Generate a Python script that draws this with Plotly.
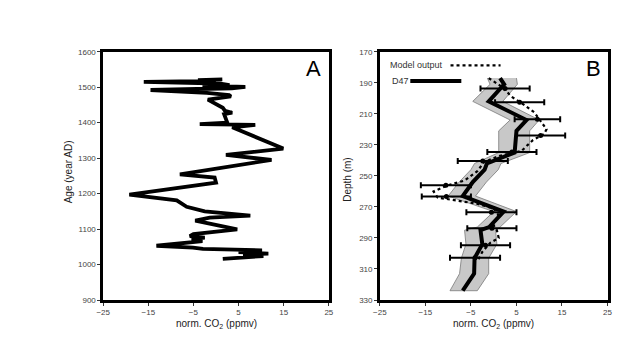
import plotly.graph_objects as go

# ---------------- Panel A data ----------------
age_A = [1016, 1019, 1024, 1028, 1031, 1035, 1040, 1044, 1048, 1053, 1060, 1066, 1071, 1076,
         1080, 1086, 1099, 1118, 1124, 1132, 1138, 1150, 1158, 1163, 1181, 1197, 1231, 1245,
         1254, 1295, 1309, 1327, 1387, 1394, 1396, 1400, 1424, 1428, 1433, 1442, 1465, 1474,
         1478, 1484, 1492, 1497, 1501, 1504, 1506, 1510, 1515, 1518, 1520, 1522]
co2_A = [1.5, 5.8, 10.5, 6.0, 11.6, 5.0, 10.2, -2.9, -5.1, -13.2, -7.0, -3.0, -5.4, -2.5,
         -5.8, -5.0, 4.7, -2.0, -4.6, -1.4, 7.6, -2.5, -5.4, -6.5, -8.7, -19.2, 0.0, -0.3,
         -8.0, 12.3, 2.2, 14.9, 3.6, 8.7, -3.6, 2.5, 1.8, 3.6, 2.0, 1.5, -1.8, 3.3,
         2.9, -2.0, -14.5, 3.5, 6.5, -3.0, 3.0, 1.0, -16.0, 0.0, -4.0, 1.4]

# ---------------- Panel B data ----------------
depth_D47 = [187, 191, 202, 214, 221, 235, 242, 246, 254, 263, 273, 283, 285, 294, 303, 313, 324]
co2_D47 = [1.4, 2.3, -1.1, 7.2, 5.0, 4.6, -1.5, -2.0, -4.6, -6.8, 2.2, -1.0, -2.9, -2.5, -4.2, -4.3, -6.8]
band_lo = [-1.4, -0.8, -4.6, 3.6, 1.1, 1.1, -4.2, -5.0, -7.6, -10.0, 0.0, -3.6, -6.4, -6.1, -7.1, -7.5, -9.6]
band_hi = [5.0, 5.2, 2.0, 10.0, 7.9, 7.9, 1.6, 1.0, -1.6, -4.0, 5.0, 1.4, 0.4, 0.7, -1.1, -1.1, -3.6]

depth_model = [187, 193, 199, 203, 209, 215, 220, 223, 227, 230, 234, 237, 241, 247, 253, 256,
               260, 264, 266, 268, 271, 275, 282, 285, 290, 293, 299, 305]
co2_model = [-1.1, 2.0, 3.9, 6.1, 8.9, 10.4, 11.6, 11.1, 8.6, 7.5, 6.1, 1.4, -2.1, -3.6, -6.4, -10.0,
             -13.2, -12.3, -8.0, -3.6, 0.0, 1.0, 0.0, 0.7, 1.1, -0.7, -2.5, -3.6]

depth_err = [193.7, 202.5, 213.6, 224.0, 234.6, 240.4, 256.0, 263.3, 273.4, 283.8, 294.7, 302.7]
co2_err = [2.5, 5.7, 9.6, 10.3, 4.0, -2.4, -10.5, -10.4, -0.5, -0.4, -1.8, -4.1]
err_half = [5.4, 5.4, 5.0, 5.4, 5.4, 5.5, 5.5, 5.4, 5.5, 5.4, 5.4, 5.5]

x_ticks = [-25, -15, -5, 5, 15, 25]
age_ticks = [900, 1000, 1100, 1200, 1300, 1400, 1500, 1600]
depth_ticks = [170, 190, 210, 230, 250, 270, 290, 310, 330]

FONT = "Liberation Sans, Arial, sans-serif"

fig = go.Figure()

# Panel A
fig.add_trace(go.Scatter(x=co2_A, y=age_A, mode="lines", xaxis="x", yaxis="y",
                         line=dict(color="black", width=3.8), showlegend=False))

# Panel B band
fig.add_trace(go.Scatter(x=band_lo + band_hi[::-1], y=depth_D47 + depth_D47[::-1],
                         mode="lines", fill="toself", fillcolor="#c8c8c8",
                         line=dict(color="#7a7a7a", width=0.8), xaxis="x2", yaxis="y2",
                         showlegend=False))
# Model output
fig.add_trace(go.Scatter(x=co2_model, y=depth_model, mode="lines", xaxis="x2", yaxis="y2",
                         line=dict(color="black", width=2.2, dash="dot"), showlegend=False))
# D47
fig.add_trace(go.Scatter(x=co2_D47, y=depth_D47, mode="lines", xaxis="x2", yaxis="y2",
                         line=dict(color="black", width=4), showlegend=False))
# Error bars
fig.add_trace(go.Scatter(x=co2_err, y=depth_err, mode="markers", xaxis="x2", yaxis="y2",
                         marker=dict(color="black", size=5),
                         error_x=dict(type="data", array=err_half, visible=True,
                                      color="black", thickness=2, width=3),
                         showlegend=False))

axis_common = dict(showline=True, linecolor="black", linewidth=2.5, mirror=True,
                   ticks="outside", ticklen=3, tickwidth=1, tickcolor="#333",
                   showgrid=False, zeroline=False,
                   tickfont=dict(family=FONT, size=8, color="#444"))

dA = [98 / 640, 328 / 640]
dB = [380 / 640, 612 / 640]
dy = [(343 - 304) / 343, (343 - 49) / 343]

fig.update_layout(
    width=640, height=343,
    margin=dict(l=0, r=0, t=0, b=0),
    paper_bgcolor="white", plot_bgcolor="white",
    xaxis=dict(domain=dA, range=[-25, 25], tickvals=x_ticks, anchor="y", **axis_common),
    yaxis=dict(domain=dy, range=[900, 1600], tickvals=age_ticks, anchor="x", **axis_common),
    xaxis2=dict(domain=dB, range=[-25, 25], tickvals=x_ticks, anchor="y2", **axis_common),
    yaxis2=dict(domain=dy, range=[330, 170], tickvals=depth_ticks, anchor="x2", **axis_common),
    font=dict(family=FONT),
)

ann = []
tfont = dict(family=FONT, size=10, color="#222")
ann.append(dict(text="Age (year AD)", x=63 / 640, y=(343 - 172) / 343, xref="paper", yref="paper",
                textangle=-90, showarrow=False, font=tfont, xanchor="center", yanchor="middle"))
ann.append(dict(text="Depth (m)", x=347 / 640, y=(343 - 180) / 343, xref="paper", yref="paper",
                textangle=-90, showarrow=False, font=tfont, xanchor="center", yanchor="middle"))
for cx in (213, 496):
    ann.append(dict(text="norm. CO<sub>2</sub> (ppmv)", x=cx / 640, y=(343 - 320) / 343,
                    xref="paper", yref="paper", showarrow=False, font=tfont,
                    xanchor="center", yanchor="top"))
ann.append(dict(text="A", x=312 / 640, y=(343 - 66) / 343, xref="paper", yref="paper",
                showarrow=False, font=dict(family=FONT, size=22, color="black"),
                xanchor="center", yanchor="middle"))
ann.append(dict(text="B", x=598 / 640, y=(343 - 66) / 343, xref="paper", yref="paper",
                showarrow=False, font=dict(family=FONT, size=22, color="black"),
                xanchor="center", yanchor="middle"))
ann.append(dict(text="Model output", x=388 / 640, y=(343 - 63) / 343, xref="paper", yref="paper",
                showarrow=False, font=dict(family=FONT, size=9, color="#333"),
                xanchor="left", yanchor="middle"))
ann.append(dict(text="D47", x=390 / 640, y=(343 - 79) / 343, xref="paper", yref="paper",
                showarrow=False, font=dict(family=FONT, size=9, color="#333"),
                xanchor="left", yanchor="middle"))
fig.update_layout(annotations=ann)

fig.update_layout(shapes=[
    dict(type="line", xref="paper", yref="paper", x0=452 / 640, x1=503 / 640,
         y0=(343 - 63) / 343, y1=(343 - 63) / 343,
         line=dict(color="black", width=2.2, dash="dot")),
    dict(type="line", xref="paper", yref="paper", x0=411 / 640, x1=463 / 640,
         y0=(343 - 79) / 343, y1=(343 - 79) / 343,
         line=dict(color="black", width=4)),
])

fig.write_html("out.html")
